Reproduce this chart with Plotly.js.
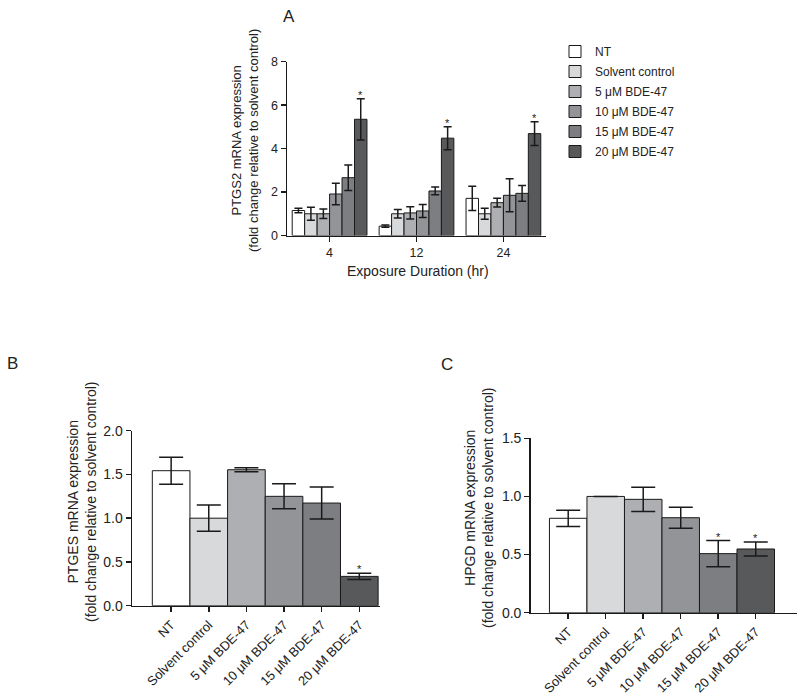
<!DOCTYPE html>
<html>
<head>
<meta charset="utf-8">
<script src="https://cdn.plot.ly/plotly-3.0.1.min.js"></script>
<style>html,body{margin:0;padding:0;background:#fff;}#chart{width:800px;height:698px;}</style>
</head>
<body>
<div id="chart"></div>
<script>
// ---------- data ----------
const seriesNames = ["NT", "Solvent control", "5 \u03bcM BDE-47", "10 \u03bcM BDE-47", "15 \u03bcM BDE-47", "20 \u03bcM BDE-47"];
const seriesColors = ["#ffffff", "#d8d9db", "#aeafb3", "#939497", "#7d7e81", "#58595b"];

// Panel A: PTGS2 by exposure duration
const durations = ["4", "12", "24"];
const ptgs2Values = [
  [1.15, 0.43, 1.71],
  [1.00, 1.00, 1.00],
  [1.00, 1.04, 1.51],
  [1.91, 1.13, 1.85],
  [2.66, 2.05, 1.94],
  [5.35, 4.48, 4.69]
];
const ptgs2Errors = [
  [0.10, 0.05, 0.56],
  [0.30, 0.20, 0.25],
  [0.22, 0.28, 0.20],
  [0.50, 0.30, 0.76],
  [0.59, 0.18, 0.36],
  [0.95, 0.53, 0.55]
];
const ptgs2Sig = [
  [false, false, false],
  [false, false, false],
  [false, false, false],
  [false, false, false],
  [false, false, false],
  [true, true, true]
];

// Panel B: PTGES
const ptgesValues = [1.543, 1.0, 1.554, 1.25, 1.173, 0.335];
const ptgesErrors = [0.155, 0.15, 0.023, 0.143, 0.183, 0.036];
const ptgesSig = [false, false, false, false, false, true];

// Panel C: HPGD
const hpgdValues = [0.812, 1.0, 0.975, 0.817, 0.508, 0.548];
const hpgdErrors = [0.07, 0, 0.105, 0.09, 0.112, 0.06];
const hpgdSig = [false, false, false, false, true, true];

// ---------- build ----------
const FONT = "Liberation Sans, Arial, sans-serif";
const TXT = "#222222";
const bargapA = 0.14;
const traces = [];
const annotations = [];

function star(x, y, xref, yref) {
  return {x: x, y: y, xref: xref, yref: yref, text: "*", showarrow: false,
    xanchor: "center", yanchor: "bottom", yshift: -4, font: {family: FONT, size: 11, color: "#222222"}};
}

seriesNames.forEach((name, i) => {
  traces.push({
    type: "bar", name: name, x: durations, y: ptgs2Values[i],
    xaxis: "x", yaxis: "y", legendgroup: "g" + i,
    marker: {color: seriesColors[i], line: {color: "#1a1a1a", width: 1}},
    error_y: {type: "data", array: ptgs2Errors[i], visible: true, color: "#1a1a1a", thickness: 1.5, width: 4}
  });
  durations.forEach((d, g) => {
    if (ptgs2Sig[i][g]) {
      const off = (1 - bargapA) * ((i + 0.5) / seriesNames.length - 0.5);
      annotations.push(star(g + off, ptgs2Values[i][g] + ptgs2Errors[i][g], "x", "y"));
    }
  });
});

traces.push({
  type: "bar", x: seriesNames, y: ptgesValues, xaxis: "x2", yaxis: "y2", showlegend: false,
  width: 1, offset: -0.5,
  marker: {color: seriesColors, line: {color: "#1a1a1a", width: 1}},
  error_y: {type: "data", array: ptgesErrors, visible: true, color: "#1a1a1a", thickness: 1.5, width: 12}
});
seriesNames.forEach((n, i) => {
  if (ptgesSig[i]) annotations.push(star(n, ptgesValues[i] + ptgesErrors[i], "x2", "y2"));
});

traces.push({
  type: "bar", x: seriesNames, y: hpgdValues, xaxis: "x3", yaxis: "y3", showlegend: false,
  width: 1, offset: -0.5,
  marker: {color: seriesColors, line: {color: "#1a1a1a", width: 1}},
  error_y: {type: "data", array: hpgdErrors, visible: true, color: "#1a1a1a", thickness: 1.5, width: 12}
});
seriesNames.forEach((n, i) => {
  if (hpgdSig[i]) annotations.push(star(n, hpgdValues[i] + hpgdErrors[i], "x3", "y3"));
});

// text labels
function txt(text, x, y, size, opts) {
  return Object.assign({text: text, x: x, y: y, xref: "paper", yref: "paper", showarrow: false,
    xanchor: "center", yanchor: "middle",
    font: {family: FONT, size: size, color: TXT}}, opts || {});
}
annotations.push(txt("A", 289/800, 1 - 17/698, 17));
annotations.push(txt("B", 12/800, 1 - 363/698, 17));
annotations.push(txt("C", 447/800, 1 - 365/698, 17));
annotations.push(txt("PTGS2 mRNA expression<br>(fold change relative to solvent control)", 245/800, 1 - 141/698, 13, {textangle: -90}));
annotations.push(txt("Exposure Duration (hr)", 418/800, 1 - 271/698, 14));
annotations.push(txt("PTGES mRNA expression<br>(fold change relative to solvent control)", 82/800, 1 - 502/698, 14, {textangle: -90}));
annotations.push(txt("HPGD mRNA expression<br>(fold change relative to solvent control)", 479/800, 1 - 508/698, 14, {textangle: -90}));

const axisBase = {
  showline: true, linecolor: "#1a1a1a", linewidth: 1.5, showgrid: false, zeroline: false,
  ticks: "outside", ticklen: 5, tickwidth: 1.5, tickcolor: "#1a1a1a",
  tickfont: {family: FONT, size: 14, color: TXT}, automargin: false, fixedrange: true
};
const smallTicks = {family: FONT, size: 12.5, color: TXT};
const catTicks = {family: FONT, size: 13, color: TXT};

const layout = {
  width: 800, height: 698,
  margin: {l: 0, r: 0, t: 0, b: 0},
  paper_bgcolor: "#ffffff", plot_bgcolor: "#ffffff",
  barmode: "group", bargap: bargapA, bargroupgap: 0,
  showlegend: true,
  legend: {x: 555/800, y: 1 - 37/698, xanchor: "left", yanchor: "top",
    font: {family: FONT, size: 12, color: TXT}, tracegroupgap: 1, itemwidth: 30, bgcolor: "rgba(0,0,0,0)"},
  xaxis: Object.assign({}, axisBase, {domain: [287/800, 546/800], anchor: "y", range: [-0.49, 2.49], type: "category", tickfont: smallTicks}),
  yaxis: Object.assign({}, axisBase, {domain: [1 - 235.5/698, 1 - 61.7/698], anchor: "x", range: [0, 8], dtick: 2, tickfont: smallTicks}),
  xaxis2: Object.assign({}, axisBase, {domain: [132/800, 380/800], anchor: "y2", range: [-1.04, 5.55], type: "category", tickangle: -45, tickfont: catTicks}),
  yaxis2: Object.assign({}, axisBase, {domain: [1 - 605.7/698, 1 - 430.7/698], anchor: "x2", range: [0, 2], dtick: 0.5, tickformat: ".1f"}),
  xaxis3: Object.assign({}, axisBase, {domain: [530.7/800, 797/800], anchor: "y3", range: [-1.0, 6.1], type: "category", tickangle: -45, tickfont: catTicks}),
  yaxis3: Object.assign({}, axisBase, {domain: [1 - 612.7/698, 1 - 438.3/698], anchor: "x3", range: [0, 1.5], dtick: 0.5, tickformat: ".1f"}),
  annotations: annotations
};

Plotly.newPlot("chart", traces, layout, {staticPlot: true, displayModeBar: false});
</script>
</body>
</html>
